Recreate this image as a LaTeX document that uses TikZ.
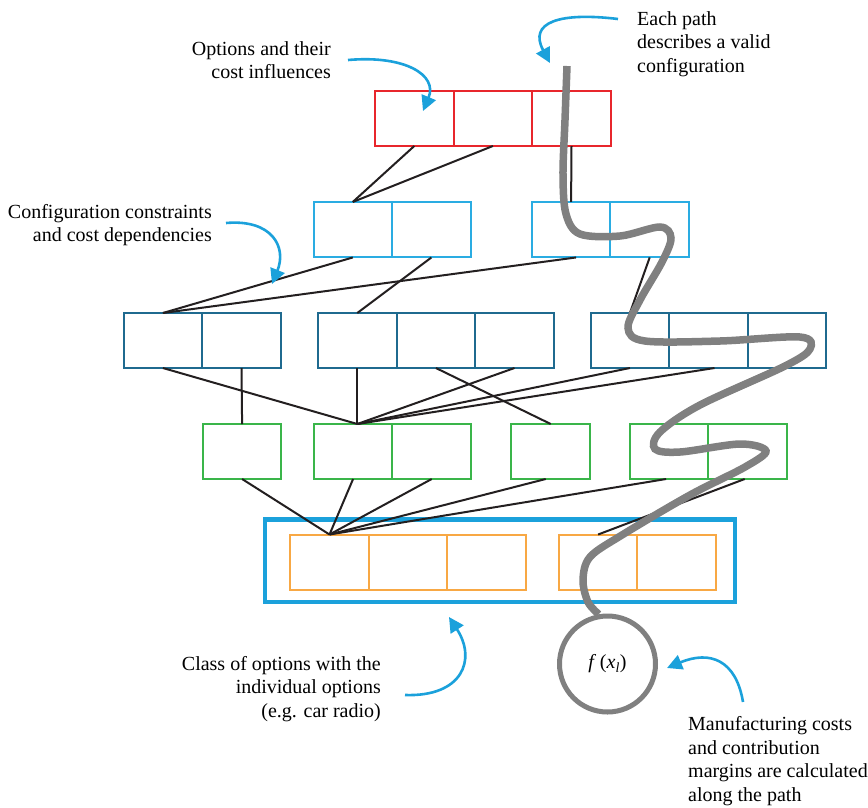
\documentclass[tikz,border=0pt]{standalone}
\usepackage{fontspec}
\setmainfont{Liberation Serif}
\usetikzlibrary{arrows.meta,calc}

\definecolor{optred}{HTML}{E8262C}
\definecolor{ruleblue}{HTML}{2AACE2}
\definecolor{groupblue}{HTML}{1F6A8F}
\definecolor{optgreen}{HTML}{3AB54A}
\definecolor{optorange}{HTML}{F8A844}
\definecolor{classblue}{HTML}{1BA1DB}
\definecolor{pointblue}{HTML}{1BA1DB}
\definecolor{pathgray}{HTML}{808080}
\definecolor{linkblack}{HTML}{231F20}

\begin{document}
\begin{tikzpicture}[x=1pt,y=-1pt,
  cell/.style={draw, line width=2pt, minimum width=78.6pt, minimum height=55pt,
               inner sep=0pt, outer sep=0pt},
  redcell/.style={cell, draw=optred},
  lbcell/.style={cell, draw=ruleblue, minimum height=55.5pt},
  dbcell/.style={cell, draw=groupblue},
  grcell/.style={cell, draw=optgreen},
  orcell/.style={cell, draw=optorange},
  link/.style={draw=linkblack, line width=2pt},
  note/.style={font=\fontsize{20}{23.5}\selectfont, inner sep=0pt, text=black},
  pointer/.style={draw=pointblue, line width=2.6pt,
                  -{Triangle[length=15pt,width=15pt]}},
  configpath/.style={draw=pathgray, line width=7.5pt}
]
\useasboundingbox (0,0) rectangle (868,807);

% Option cells and their cost influences
\node[redcell] (r1) at (414.3,118.5) {};
\node[redcell] (r2) at (492.9,118.5) {};
\node[redcell] (r3) at (571.5,118.5) {};

% Constraint groups
\node[lbcell] (lbL1) at (352.8,229.7) {};
\node[lbcell] (lbL2) at (431.4,229.7) {};
\node[lbcell] (lbR1) at (571.1,229.7) {};
\node[lbcell] (lbR2) at (649.7,229.7) {};

% Dependency groups
\node[dbcell] (db1a) at (162.9,340.5) {};
\node[dbcell] (db1b) at (241.5,340.5) {};
\node[dbcell] (db2a) at (357.3,340.5) {};
\node[dbcell] (db2b) at (435.9,340.5) {};
\node[dbcell] (db2c) at (514.5,340.5) {};
\node[dbcell] (db3a) at (629.9,340.5) {};
\node[dbcell] (db3b) at (708.5,340.5) {};
\node[dbcell] (db3c) at (787.1,340.5) {};

% Green level
\node[grcell] (gr1)  at (242.1,451.5) {};
\node[grcell] (gr2a) at (353.1,451.5) {};
\node[grcell] (gr2b) at (431.7,451.5) {};
\node[grcell] (gr3)  at (550.7,451.5) {};
\node[grcell] (gr4a) at (669.1,451.5) {};
\node[grcell] (gr4b) at (747.7,451.5) {};

% Class of options with its individual options
\node[draw=classblue, line width=4.6pt, minimum width=470pt, minimum height=82.5pt,
      inner sep=0pt, outer sep=0pt] (cls) at (500,560.8) {};
\node[orcell] (o1a) at (329.5,562) {};
\node[orcell] (o1b) at (408.1,562) {};
\node[orcell] (o1c) at (486.7,562) {};
\node[orcell] (o2a) at (598.1,562) {};
\node[orcell] (o2b) at (676.7,562) {};

% Evaluation node
\node[circle, draw=pathgray, line width=5pt, minimum size=96pt, inner sep=0pt]
  (circ) at (607.5,664)
  {\fontsize{20}{23}\selectfont\itshape f\hspace{0.3em}\upshape(\itshape x\textsubscript{l}\upshape)};

% Connectors between the levels
\draw[link] (r1.south) -- (lbL1.north);
\draw[link] (r2.south) -- (lbL1.north);
\draw[link] (r3.south) -- (lbR1.north);

\draw[link] (lbL1.south) -- (db1a.north);
\draw[link] ([xshift=5pt]lbR1.south) -- (db1a.north);
\draw[link] (lbL2.south) -- (db2a.north);
\draw[link] (lbR2.south) -- (db3a.north);

\coordinate (jg) at (db2a.south |- gr2a.north);
\draw[link] (db1a.south) -- (jg);
\draw[link] (db1b.south) -- (gr1.north);
\draw[link] (db2a.south) -- (jg);
\draw[link] (db2b.south) -- (gr3.north);
\draw[link] (db2c.south) -- (jg);
\draw[link] (db3a.south) -- (jg);
\draw[link] ([xshift=6pt]db3b.south) -- (jg);

\draw[link] (gr1.south)  -- (o1a.north);
\draw[link] (gr2a.south) -- (o1a.north);
\draw[link] (gr2b.south) -- (o1a.north);
\draw[link] ([xshift=-5pt]gr3.south)  -- (o1a.north);
\draw[link] ([xshift=-3pt]gr4a.south) -- (o1a.north);
\draw[link] ([xshift=-3pt]gr4b.south) -- (o2a.north);

% A valid configuration path
\coordinate (pathtop) at (567,66);
\draw[configpath] plot[smooth, tension=0.55] coordinates {
  (pathtop) (565,120) (563,175) (566,214) (580,234) (620,236) (660,227)
  (671,238) (662,262) (640,300) (628,328) (645,341) (720,341) (800,337)
  (810,349) (785,366) (700,405) (660,432) (655,449) (680,452) (740,444)
  (766,451) (745,467) (690,495) (622,535) (590,557) (583,580) (588,602)
  (circ.100)};

% Annotations
\node[note, anchor=east, align=right] (optnote) at (331,60)
  {Options and their\\cost influences};
\node[note, anchor=west, align=left] (pathnote) at (637,44)
  {Each path\\describes a valid\\configuration};
\node[note, anchor=east, align=right] (connote) at (212,225)
  {Configuration constraints\\and cost dependencies};
\node[note, anchor=east, align=right] (clsnote) at (381,689)
  {Class of options with the\\individual options\\(e.g. car radio)};
\node[note, anchor=west, align=left] (costnote) at (688,761)
  {Manufacturing costs\\and contribution\\margins are calculated\\along the path};

\coordinate (tipopt) at (423,111);
\coordinate (tippath) at (550,63);
\coordinate (tipcon) at (272,284);
\coordinate (tipcls) at (449,617);
\coordinate (tipcost) at (667,668);

\draw[pointer] ($(optnote.east)+(17,0)$) .. controls (405,55) and (438,75) .. (tipopt);
\draw[pointer] ($(pathnote.west)+(-19,-25)$) .. controls (560,12) and (528,22) .. (tippath);
\draw[pointer] ($(connote.east)+(14,-2)$) .. controls (272,219) and (287,247) .. (tipcon);
\draw[pointer] ($(clsnote.east)+(24,6)$) .. controls (462,697) and (477,660) .. (tipcls);
\draw[pointer] ($(costnote.west)+(55,-59)$) .. controls (736,660) and (710,650) .. (tipcost);
\end{tikzpicture}
\end{document}
